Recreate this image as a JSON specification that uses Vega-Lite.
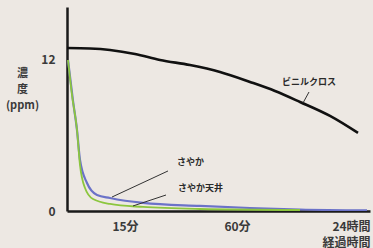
{
  "$schema": "https://vega.github.io/schema/vega-lite/v6.json",
  "width": 303,
  "height": 204,
  "autosize": "none",
  "padding": {"left": 67, "top": 7, "right": 3, "bottom": 37},
  "background": "#ede8e3",
  "config": {
    "view": {"stroke": null},
    "font": "Noto Sans CJK JP"
  },
  "datasets": {
    "curves": [
      {"series": "ビニルクロス", "t": 0, "v": 12.95},
      {"series": "ビニルクロス", "t": 23, "v": 12.91},
      {"series": "ビニルクロス", "t": 43, "v": 12.79},
      {"series": "ビニルクロス", "t": 68, "v": 12.47},
      {"series": "ビニルクロス", "t": 93, "v": 11.99},
      {"series": "ビニルクロス", "t": 123, "v": 11.59},
      {"series": "ビニルクロス", "t": 153, "v": 11.04},
      {"series": "ビニルクロス", "t": 183, "v": 10.25},
      {"series": "ビニルクロス", "t": 208, "v": 9.53},
      {"series": "ビニルクロス", "t": 233, "v": 8.66},
      {"series": "ビニルクロス", "t": 263, "v": 7.55},
      {"series": "ビニルクロス", "t": 291, "v": 6.2},
      {"series": "さやか", "t": 1, "v": 11.99},
      {"series": "さやか", "t": 6, "v": 8.74},
      {"series": "さやか", "t": 10, "v": 6.43},
      {"series": "さやか", "t": 13, "v": 4.05},
      {"series": "さやか", "t": 20, "v": 2.22},
      {"series": "さやか", "t": 30, "v": 1.27},
      {"series": "さやか", "t": 43, "v": 1.03},
      {"series": "さやか", "t": 76, "v": 0.64},
      {"series": "さやか", "t": 133, "v": 0.4},
      {"series": "さやか", "t": 183, "v": 0.24},
      {"series": "さやか", "t": 233, "v": 0.12},
      {"series": "さやか", "t": 300, "v": 0.05},
      {"series": "さやか天井", "t": 1, "v": 11.99},
      {"series": "さやか天井", "t": 5, "v": 9.21},
      {"series": "さやか天井", "t": 10, "v": 6.43},
      {"series": "さやか天井", "t": 13, "v": 3.65},
      {"series": "さやか天井", "t": 18, "v": 1.83},
      {"series": "さやか天井", "t": 26, "v": 0.95},
      {"series": "さやか天井", "t": 43, "v": 0.56},
      {"series": "さやか天井", "t": 76, "v": 0.32},
      {"series": "さやか天井", "t": 133, "v": 0.16},
      {"series": "さやか天井", "t": 233, "v": 0.08}
    ],
    "leaders": [
      {"t": 45, "v": 1.11, "t2": 101, "v2": 3.18},
      {"t": 66, "v": 0.4, "t2": 99, "v2": 1.27},
      {"t": 236, "v": 8.58, "t2": 242, "v2": 9.45}
    ],
    "labelsLeft": [
      {"t": 110, "v": 3.89, "label": "さやか"},
      {"t": 111, "v": 1.83, "label": "さやか天井"}
    ],
    "labelsCenter": [
      {"t": 242, "v": 10.25, "label": "ビニルクロス"}
    ]
  },
  "layer": [
    {
      "data": {"name": "curves"},
      "mark": {"type": "line", "interpolate": "monotone", "clip": true},
      "encoding": {
        "x": {
          "field": "t", "type": "quantitative",
          "scale": {"domain": [0, 303], "nice": false},
          "axis": {
            "values": [58, 170, 284],
            "labelExpr": "datum.value == 58 ? '15分' : datum.value == 170 ? '60分' : '24時間'",
            "grid": false, "ticks": false, "tickSize": 0,
            "domainColor": "#1a1a1a", "domainWidth": 2.5,
            "labelFontSize": 12, "labelColor": "#3a3a3a", "labelFontWeight": "bold",
            "labelPadding": 10, "labelFlush": false,
            "title": "経過時間", "titleFontSize": 12, "titleColor": "#3a3a3a",
            "titleFontWeight": "bold", "titleX": 279, "titleY": 31,
            "titleBaseline": "middle", "titleAlign": "center"
          }
        },
        "y": {
          "field": "v", "type": "quantitative",
          "scale": {"domain": [0, 16.2], "nice": false},
          "axis": {
            "values": [0, 12],
            "grid": false, "ticks": false, "tickSize": 0,
            "domainColor": "#1a1a1a", "domainWidth": 2.5,
            "labelFontSize": 12, "labelColor": "#3a3a3a", "labelFontWeight": "bold",
            "labelPadding": 12,
            "title": ["濃", "度", "(ppm)"], "titleAngle": 0,
            "titleFontSize": 11, "titleColor": "#3a3a3a", "titleFontWeight": "bold",
            "titleLineHeight": 16, "titleX": -45, "titleY": 60,
            "titleBaseline": "top", "titleAlign": "center"
          }
        },
        "color": {
          "field": "series", "type": "nominal",
          "scale": {"domain": ["ビニルクロス", "さやか", "さやか天井"], "range": ["#111111", "#6b72c8", "#8cc63e"]},
          "legend": null
        },
        "strokeWidth": {
          "field": "series", "type": "nominal",
          "scale": {"domain": ["ビニルクロス", "さやか", "さやか天井"], "range": [2.6, 1.8, 3.4]},
          "legend": null
        },
        "order": {"field": "t"}
      }
    },
    {
      "data": {"name": "leaders"},
      "mark": {"type": "rule", "color": "#333333", "strokeWidth": 1},
      "encoding": {
        "x": {"field": "t", "type": "quantitative"},
        "y": {"field": "v", "type": "quantitative"},
        "x2": {"field": "t2"},
        "y2": {"field": "v2"}
      }
    },
    {
      "data": {"name": "labelsLeft"},
      "mark": {"type": "text", "fontSize": 9, "fontWeight": "bold", "color": "#2a2a2a", "baseline": "middle", "align": "left"},
      "encoding": {
        "x": {"field": "t", "type": "quantitative"},
        "y": {"field": "v", "type": "quantitative"},
        "text": {"field": "label"}
      }
    },
    {
      "data": {"name": "labelsCenter"},
      "mark": {"type": "text", "fontSize": 9, "fontWeight": "bold", "color": "#2a2a2a", "baseline": "middle", "align": "center"},
      "encoding": {
        "x": {"field": "t", "type": "quantitative"},
        "y": {"field": "v", "type": "quantitative"},
        "text": {"field": "label"}
      }
    }
  ]
}
